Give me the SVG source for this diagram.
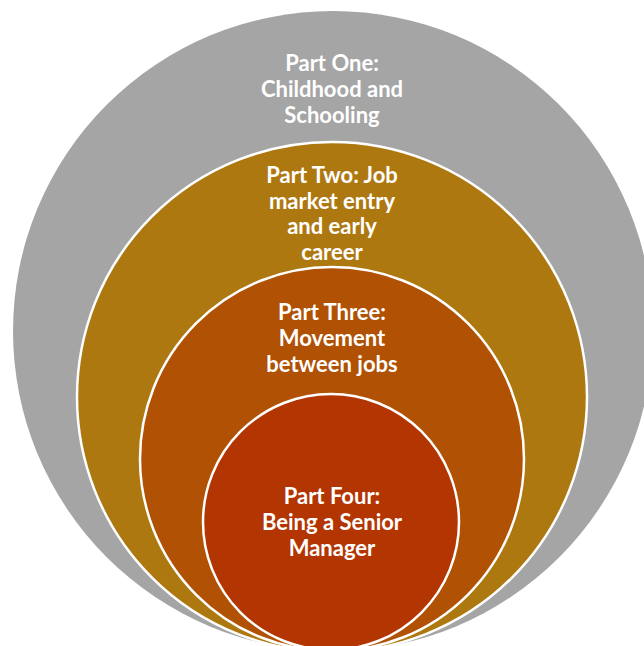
<svg xmlns="http://www.w3.org/2000/svg" width="644" height="646" viewBox="0 0 644 646">
  <style>
    .ring { stroke: #FFFFFF; stroke-width: 2.5; }
    .label { font-family: Lato, "Liberation Sans", sans-serif; font-weight: bold; font-size: 22px; fill: #FFFFFF; text-anchor: middle; }
  </style>
  <rect width="644" height="646" fill="#FFFFFF"/>

  <!-- Outer ring: Part One -->
  <g id="part-one">
    <circle cx="333" cy="331" r="320" fill="#A5A5A5"/>
    <text class="label" x="332" y="71">Part One:</text>
    <text class="label" x="332" y="97">Childhood and</text>
    <text class="label" x="332" y="123">Schooling</text>
  </g>

  <!-- Second ring: Part Two -->
  <g id="part-two">
    <circle class="ring" cx="332" cy="397" r="255" fill="#AE7811"/>
    <text class="label" x="332" y="183">Part Two: Job</text>
    <text class="label" x="332" y="209">market entry</text>
    <text class="label" x="332" y="234">and early</text>
    <text class="label" x="332" y="260">career</text>
  </g>

  <!-- Third ring: Part Three -->
  <g id="part-three">
    <circle class="ring" cx="332" cy="459" r="192" fill="#B05103"/>
    <text class="label" x="332" y="320">Part Three:</text>
    <text class="label" x="332" y="346">Movement</text>
    <text class="label" x="332" y="372">between jobs</text>
  </g>

  <!-- Core: Part Four -->
  <g id="part-four">
    <circle class="ring" cx="331" cy="522" r="128" fill="#B33501"/>
    <text class="label" x="332" y="504">Part Four:</text>
    <text class="label" x="332" y="530">Being a Senior</text>
    <text class="label" x="332" y="556">Manager</text>
  </g>

  <g id="connectors"/>
</svg>
